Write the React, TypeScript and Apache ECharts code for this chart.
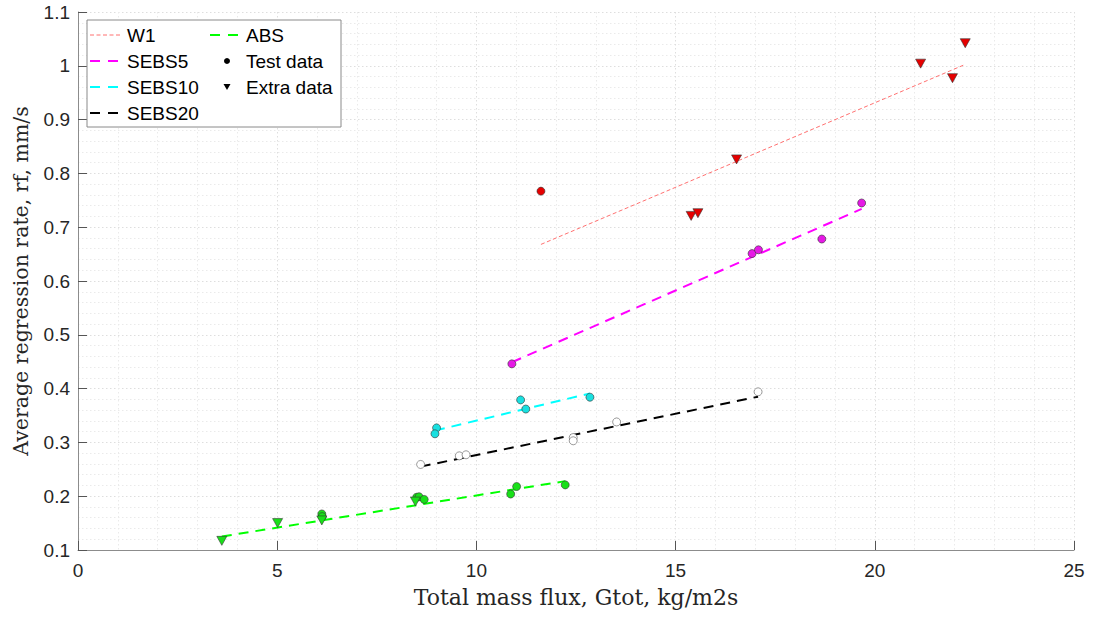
import React, { useEffect, useRef } from "react";
import * as echarts from "echarts";

// ---- data ----
const w1Test: number[][] = [[11.62, 0.767]];
const w1Extra: number[][] = [
  [15.39, 0.721], [15.56, 0.726], [16.53, 0.826], [21.15, 1.004], [21.95, 0.977], [22.27, 1.042],
];
const w1Fit: number[][] = [[11.62, 0.668], [22.22, 1.001]];

const sebs5Test: number[][] = [
  [10.89, 0.446], [16.92, 0.651], [17.08, 0.658], [18.67, 0.678], [19.67, 0.745],
];
const sebs5Fit: number[][] = [[10.89, 0.449], [19.67, 0.734]];

const sebs10Test: number[][] = [
  [9.0, 0.327], [8.96, 0.316], [11.11, 0.379], [11.24, 0.362], [12.85, 0.384],
];
const sebs10Fit: number[][] = [[8.96, 0.322], [12.85, 0.391]];

const sebs20Test: number[][] = [
  [8.6, 0.259], [9.57, 0.275], [9.74, 0.277], [12.43, 0.309], [12.43, 0.303], [13.52, 0.338], [17.07, 0.394],
];
const sebs20Fit: number[][] = [[8.6, 0.255], [17.07, 0.385]];

const absTest: number[][] = [
  [6.12, 0.167], [6.13, 0.162], [8.5, 0.198], [8.56, 0.199], [8.69, 0.194], [10.86, 0.204], [11.01, 0.218], [12.23, 0.221],
];
const absExtra: number[][] = [[3.61, 0.117], [5.01, 0.15], [6.12, 0.155], [8.47, 0.19]];
const absFit: number[][] = [[3.61, 0.125], [12.23, 0.228]];

const legendCol1 = ["W1", "SEBS5", "SEBS10", "SEBS20"];
const legendCol2 = ["ABS", "Test data", "Extra data"];

const xTitle = "Total mass flux, Gtot, kg/m2s";
const yTitle = "Average regression rate, rf, mm/s";

const SANS = "'Liberation Sans', Arial, sans-serif";
const SERIF = "'DejaVu Serif', 'Liberation Serif', serif";

function fitSeries(name: string, data: number[][], color: string, width: number, dash: number[]) {
  return {
    name,
    type: "line",
    data,
    showSymbol: false,
    silent: true,
    z: 3,
    lineStyle: { color, width, type: dash },
  };
}

function scatter(name: string, data: number[][], fill: string, tri: boolean, edge = "#333") {
  return {
    name,
    type: "scatter",
    data,
    silent: true,
    z: 4,
    symbol: tri ? "triangle" : "circle",
    symbolRotate: tri ? 180 : 0,
    symbolSize: tri ? [10, 9] : 8,
    itemStyle: { color: fill, borderColor: edge, borderWidth: 0.6, opacity: 1 },
  };
}

export default function App() {
  const ref = useRef<HTMLDivElement>(null);
  useEffect(() => {
    if (!ref.current) return;
    const chart = echarts.init(ref.current, undefined, { renderer: "svg" });

    const colColors1 = ["#ff7070", "#ff00ff", "#00ffff", "#000000"];
    const rowY = [35, 61, 87, 113];
    const legendEls: any[] = [
      {
        type: "rect",
        shape: { x: 87, y: 20, width: 254, height: 107 },
        style: { fill: "#ffffff", stroke: "#8a8a8a", lineWidth: 1 },
        z: 100,
      },
    ];
    legendCol1.forEach((name, i) => {
      const w1 = i === 0;
      legendEls.push({
        type: "line",
        shape: { x1: 90, y1: rowY[i], x2: 122, y2: rowY[i] },
        style: {
          stroke: colColors1[i],
          lineWidth: w1 ? 1 : 2,
          lineDash: w1 ? [4, 2.5] : [10, 8],
        },
        z: 101,
      });
      legendEls.push({
        type: "text",
        x: 127,
        y: rowY[i],
        style: { text: name, fontFamily: SANS, fontSize: 19, fill: "#000", verticalAlign: "middle" },
        z: 101,
      });
    });
    // column 2
    legendEls.push({
      type: "line",
      shape: { x1: 210, y1: rowY[0], x2: 242, y2: rowY[0] },
      style: { stroke: "#00ff00", lineWidth: 2, lineDash: [10, 8] },
      z: 101,
    });
    legendEls.push({
      type: "circle",
      shape: { cx: 227, cy: rowY[1], r: 3 },
      style: { fill: "#000" },
      z: 101,
    });
    legendEls.push({
      type: "polygon",
      shape: { points: [[223.5, rowY[2] - 3], [230.5, rowY[2] - 3], [227, rowY[2] + 3]] },
      style: { fill: "#000" },
      z: 101,
    });
    legendCol2.forEach((name, i) => {
      legendEls.push({
        type: "text",
        x: 246,
        y: rowY[i],
        style: { text: name, fontFamily: SANS, fontSize: 19, fill: "#000", verticalAlign: "middle" },
        z: 101,
      });
    });

    const gridLine = { show: true, lineStyle: { color: "#dedede", type: [1.5, 2.5], width: 1 } };
    const minorGridLine = { show: true, lineStyle: { color: "#eaeaea", type: [1.5, 2.5], width: 1 } };

    chart.setOption({
      animation: false,
      backgroundColor: "#ffffff",
      grid: { left: 78, right: 20, top: 12, bottom: 69, containLabel: false },
      xAxis: {
        type: "value",
        min: 0,
        max: 25,
        interval: 5,
        name: xTitle,
        nameLocation: "middle",
        nameGap: 36,
        nameTextStyle: { fontFamily: SERIF, fontSize: 22, color: "#262626" },
        axisLine: { show: true, lineStyle: { color: "#8c8c8c", width: 1 } },
        axisTick: { show: true, inside: true, length: 9, lineStyle: { color: "#555" } },
        axisLabel: { fontFamily: SANS, fontSize: 19, color: "#262626", margin: 11 },
        splitLine: gridLine,
        minorTick: { show: false, splitNumber: 5 },
        minorSplitLine: minorGridLine,
      },
      yAxis: {
        type: "value",
        min: 0.1,
        max: 1.1,
        interval: 0.1,
        name: yTitle,
        nameLocation: "middle",
        nameGap: 47,
        nameTextStyle: { fontFamily: SERIF, fontSize: 20.5, color: "#262626" },
        axisLine: { show: true, lineStyle: { color: "#8c8c8c", width: 1 } },
        axisTick: { show: true, inside: true, length: 9, lineStyle: { color: "#555" } },
        axisLabel: { fontFamily: SANS, fontSize: 19, color: "#262626", margin: 8 },
        splitLine: gridLine,
        minorTick: { show: false, splitNumber: 5 },
        minorSplitLine: minorGridLine,
      },
      series: [
        fitSeries("W1", w1Fit, "#ff7070", 1, [4, 2.5]),
        fitSeries("SEBS5", sebs5Fit, "#ff00ff", 2, [10, 7]),
        fitSeries("SEBS10", sebs10Fit, "#00ffff", 2, [10, 7]),
        fitSeries("SEBS20", sebs20Fit, "#000000", 2, [10, 7]),
        fitSeries("ABS", absFit, "#00ff00", 2, [10, 7]),
        scatter("W1 test", w1Test, "#e60000", false),
        scatter("W1 extra", w1Extra, "#e60000", true),
        scatter("SEBS5 test", sebs5Test, "#e619e6", false),
        scatter("SEBS10 test", sebs10Test, "#19e0e0", false),
        scatter("SEBS20 test", sebs20Test, "#ffffff", false, "#555"),
        scatter("ABS test", absTest, "#19e019", false),
        scatter("ABS extra", absExtra, "#19e019", true),
      ],
      graphic: legendEls,
    });
    return () => chart.dispose();
  }, []);
  return <div ref={ref} style={{ width: 1094, height: 619, position: "absolute", left: 0, top: 0 }} />;
}
